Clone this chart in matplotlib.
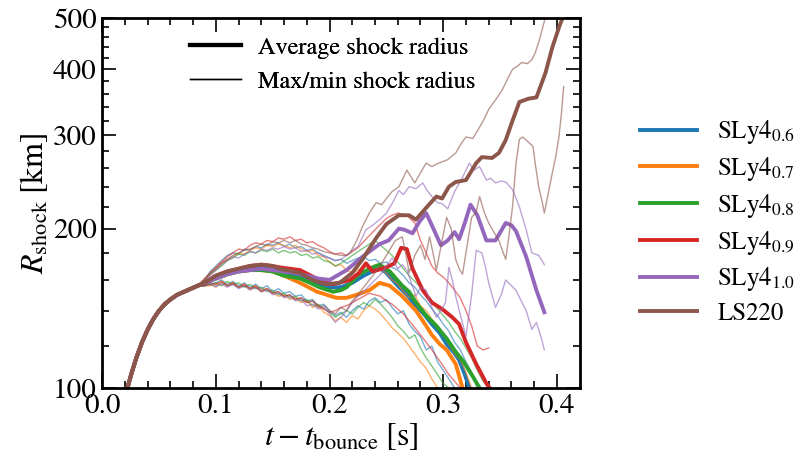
import numpy as np
import matplotlib
matplotlib.use("Agg")
import matplotlib.pyplot as plt
from matplotlib.lines import Line2D
from matplotlib.ticker import FixedLocator, NullFormatter, FixedFormatter

plt.rcParams['font.family'] = 'STIXGeneral'
plt.rcParams['mathtext.fontset'] = 'stix'

# common early rise of the shock (all models overlap here)
rise_t = [0.021, 0.026, 0.030, 0.035, 0.040, 0.045, 0.050, 0.055, 0.060, 0.066, 0.072, 0.078, 0.084]
rise_r = [98, 107, 114, 122, 129, 135, 140, 144, 147, 150, 152, 154, 156]

# sampling times of the max/min curves
grid = [0.090, 0.095, 0.100, 0.105, 0.110, 0.115, 0.120, 0.125, 0.130, 0.135,
        0.140, 0.145, 0.150, 0.155, 0.160, 0.165, 0.170, 0.175, 0.180, 0.185,
        0.190, 0.195, 0.200, 0.205, 0.210, 0.215, 0.220, 0.225, 0.230, 0.235,
        0.240, 0.245, 0.250, 0.255, 0.260, 0.265, 0.270, 0.275, 0.280, 0.285,
        0.290, 0.295, 0.300, 0.305, 0.310, 0.315, 0.320, 0.325, 0.330, 0.335, 0.340]

# SLy4_0.6
sly06_avg_t = [0.09, 0.1, 0.11, 0.12, 0.13, 0.14, 0.15, 0.16, 0.17, 0.18, 0.19, 0.2, 0.21, 0.22, 0.23,
               0.24, 0.245, 0.25, 0.26, 0.268, 0.276, 0.283, 0.29, 0.297, 0.303, 0.309, 0.314, 0.319, 0.323]
sly06_avg_r = [158, 162, 165, 167, 168, 169, 168, 166, 163, 160, 157, 155, 155, 158, 163,
               167, 168, 165, 156, 150, 143, 138, 132, 127, 121, 117, 113, 106, 100]
sly06_max = [160, 166, 170, 174, 178, 180, 179, 183, 182, 185, 184, 187, 186, 188, 185, 187, 184,
             185, 182, 183, 180, 178, 176, 174, 175, 172, 174, 176, 177, 174, 175, 172, 173, 169,
             167, 163, 158, 155, 150, 146, 141, 137, 132, 128, 122, 118, 112, 107, 100]
sly06_min = [156, 157, 158, 160, 157, 159, 156, 158, 155, 157, 154, 156, 152, 154, 151, 152, 149,
             150, 146, 147, 143, 144, 140, 137, 139, 136, 140, 143, 141, 146, 148, 145, 147, 142,
             138, 140, 132, 128, 125, 118, 120, 112, 108, 104, 100]

# SLy4_0.7
sly07_avg_t = [0.09, 0.1, 0.11, 0.12, 0.13, 0.14, 0.15, 0.16, 0.174, 0.189, 0.206, 0.215, 0.224,
               0.235, 0.244, 0.253, 0.264, 0.276, 0.285, 0.29, 0.297, 0.303, 0.311, 0.317]
sly07_avg_r = [158, 161, 164, 166, 167, 167, 166, 163, 158, 152, 148, 148, 150,
               153, 158, 156, 149, 140, 131, 126, 121, 118, 111, 100]
sly07_max = [160, 164, 168, 172, 175, 177, 180, 179, 182, 184, 183, 186, 185, 187, 186, 184, 186,
             183, 181, 182, 178, 177, 173, 170, 171, 167, 165, 167, 170, 168, 171, 167, 165, 160,
             157, 152, 148, 150, 143, 140, 135, 131, 126, 121, 116, 113, 107, 100]
sly07_min = [156, 156, 157, 159, 156, 158, 155, 157, 154, 156, 152, 154, 151, 149, 150, 147, 148,
             145, 146, 142, 143, 139, 137, 134, 136, 133, 137, 135, 140, 143, 141, 138, 134, 130,
             127, 124, 120, 116, 112, 109, 104, 100]

# SLy4_0.8
sly08_avg_t = [0.09, 0.1, 0.11, 0.12, 0.13, 0.14, 0.15, 0.16, 0.167, 0.174, 0.183, 0.191, 0.203, 0.21,
               0.215, 0.226, 0.238, 0.244, 0.253, 0.264, 0.27, 0.276, 0.285, 0.294, 0.303, 0.311,
               0.318, 0.325, 0.332]
sly08_avg_r = [158, 161, 164, 166, 167, 167, 166, 163, 162, 161, 158, 155, 152, 153,
               155, 164, 169, 171, 166, 156, 152, 145, 137, 131, 124, 117, 112, 106, 100]
sly08_max = [160, 164, 167, 170, 174, 176, 179, 178, 181, 180, 182, 181, 183, 180, 182, 180, 181,
             178, 179, 176, 177, 174, 173, 170, 172, 175, 178, 181, 184, 187, 190, 186, 182, 178,
             173, 168, 163, 159, 155, 150, 146, 141, 137, 133, 128, 124, 119, 114, 108, 103, 100]
sly08_min = [156, 157, 158, 156, 159, 157, 158, 155, 157, 154, 155, 152, 153, 150, 151, 148, 149,
             146, 147, 143, 144, 141, 139, 136, 138, 140, 138, 142, 145, 143, 147, 144, 140, 136,
             131, 128, 124, 126, 119, 114, 110, 106, 102, 100]

# SLy4_0.9
sly09_avg_t = [0.09, 0.1, 0.11, 0.12, 0.13, 0.14, 0.15, 0.156, 0.174, 0.191, 0.203, 0.218, 0.226,
               0.232, 0.238, 0.25, 0.257, 0.263, 0.268, 0.273, 0.282, 0.29, 0.299, 0.308, 0.314,
               0.32, 0.329, 0.338, 0.341]
sly09_avg_r = [158, 163, 166, 168, 170, 171, 170, 169, 167, 160, 157, 160, 165,
               172, 166, 169, 172, 184, 183, 168, 153, 145, 141, 136, 132, 122, 111, 102, 100]
sly09_max = [161, 165, 169, 173, 177, 180, 183, 182, 186, 188, 187, 190, 189, 192, 191, 193, 190,
             191, 188, 189, 186, 184, 181, 179, 180, 178, 181, 184, 189, 194, 199, 204, 209, 212,
             214, 213, 210, 205, 190, 180, 170, 165, 162, 158, 153, 148, 140, 131, 120, 118, 119]
sly09_min = [156, 158, 157, 159, 156, 158, 155, 157, 154, 156, 153, 154, 151, 152, 149, 150, 147,
             148, 145, 146, 143, 141, 139, 140, 142, 143, 145, 147, 149, 151, 150, 149, 146, 144,
             141, 138, 134, 130, 126, 122, 118, 114, 110, 106, 103, 100]

# SLy4_1.0
sly10_avg_t = [0.09, 0.1, 0.11, 0.12, 0.13, 0.14, 0.15, 0.16, 0.17, 0.18, 0.19, 0.2, 0.215, 0.229,
               0.244, 0.252, 0.261, 0.266, 0.273, 0.279, 0.285, 0.29, 0.298, 0.304, 0.31, 0.314,
               0.319, 0.324, 0.33, 0.338, 0.346, 0.355, 0.36, 0.364, 0.373, 0.382, 0.389]
sly10_avg_r = [158, 161, 164, 166, 167, 168, 167, 166, 165, 163, 161, 160, 167, 177,
               187, 190, 200, 199, 196, 206, 214, 203, 186, 190, 197, 191,
               205, 222, 212, 190, 190, 205, 203, 198, 177, 153, 139]
sly10_max_t = grid[:28] + [0.232, 0.238, 0.244, 0.25, 0.255, 0.261, 0.265, 0.27, 0.276, 0.282,
                           0.286, 0.29, 0.295, 0.299, 0.304, 0.31, 0.317, 0.323, 0.327, 0.332,
                           0.338, 0.342, 0.346, 0.351, 0.355, 0.361, 0.367, 0.373, 0.378, 0.384, 0.389]
sly10_max_r = [159, 163, 167, 171, 174, 177, 176, 179, 181, 180, 183, 182, 184, 183, 185, 183, 184,
               181, 182, 179, 180, 177, 176, 174, 175, 178, 182, 185,
               199, 203, 208, 214, 223, 236, 232, 240, 238, 244,
               236, 230, 224, 223, 218, 235, 250, 266, 258, 262,
               247, 249, 244, 246, 245, 237, 220, 199, 180, 178, 171]
sly10_min_t = grid[:23] + [0.205, 0.21, 0.215, 0.22, 0.225, 0.23, 0.235, 0.24, 0.245, 0.25,
                           0.255, 0.26, 0.264, 0.268, 0.272, 0.276, 0.28, 0.285, 0.29, 0.294,
                           0.298, 0.302, 0.305, 0.308, 0.311, 0.316, 0.32, 0.325, 0.329, 0.334,
                           0.337, 0.34, 0.346, 0.351, 0.355, 0.36, 0.364, 0.368, 0.373, 0.378,
                           0.382, 0.386, 0.389]
sly10_min_r = [156, 158, 156, 157, 155, 157, 154, 156, 153, 155, 152, 153, 150, 151, 148, 149, 146,
               147, 143, 144, 141, 142, 138,
               133, 136, 140, 145, 149, 152, 156, 160, 164, 170,
               176, 168, 171, 167, 158, 149, 155, 153, 142, 136,
               140, 145, 169, 160, 149, 135, 125, 150, 182, 180,
               170, 158, 142, 150, 160, 156, 153, 147, 140, 129,
               133, 125, 118]

# LS220
ls220_avg_t = [0.09, 0.1, 0.11, 0.12, 0.13, 0.14, 0.15, 0.156, 0.174, 0.185, 0.197, 0.209, 0.22,
               0.229, 0.241, 0.25, 0.261, 0.27, 0.276, 0.285, 0.294, 0.299, 0.305, 0.311, 0.32,
               0.329, 0.334, 0.343, 0.349, 0.355, 0.361, 0.367, 0.375, 0.382, 0.39, 0.396, 0.402, 0.408]
ls220_avg_r = [158, 163, 166, 168, 170, 171, 170, 168, 165, 160, 157, 158, 165,
               175, 192, 204, 212, 212, 208, 219, 230, 228, 240, 245, 247,
               266, 273, 272, 278, 294, 320, 347, 352, 354, 394, 440, 481, 520]
ls220_max_t = grid[:23] + [0.205, 0.21, 0.215, 0.218, 0.224, 0.229, 0.235, 0.241, 0.246, 0.25,
                           0.255, 0.261, 0.265, 0.268, 0.272, 0.275, 0.28, 0.285, 0.29, 0.296,
                           0.3, 0.304, 0.311, 0.316, 0.32, 0.326, 0.332, 0.336, 0.34, 0.346,
                           0.352, 0.357, 0.361, 0.365, 0.369, 0.374, 0.378, 0.381, 0.384, 0.387, 0.39]
ls220_max_r = [160, 165, 168, 172, 175, 178, 180, 182, 183, 185, 187, 186, 189, 188, 190, 188, 190,
               187, 186, 184, 183, 181, 180,
               179, 178, 178, 180, 190, 202, 214, 224, 222, 228,
               235, 240, 250, 258, 250, 244, 255, 266, 262, 266,
               268, 270, 278, 290, 298, 296, 311, 322, 336, 350,
               366, 385, 400, 405, 412, 410, 417, 430, 450, 475, 502]
ls220_min_t = grid[:23] + [0.205, 0.21, 0.215, 0.22, 0.225, 0.23, 0.235, 0.24, 0.245, 0.25,
                           0.254, 0.258, 0.264, 0.268, 0.27, 0.275, 0.28, 0.284, 0.288, 0.291,
                           0.294, 0.298, 0.303, 0.307, 0.311, 0.314, 0.317, 0.32, 0.325, 0.329,
                           0.332, 0.336, 0.34, 0.344, 0.349, 0.352, 0.355, 0.358, 0.361, 0.364,
                           0.367, 0.37, 0.373, 0.376, 0.379, 0.381, 0.384, 0.387, 0.389, 0.391,
                           0.393, 0.396, 0.399, 0.402, 0.404, 0.406]
ls220_min_r = [156, 157, 155, 158, 156, 157, 155, 156, 154, 155, 152, 154, 151, 152, 149, 150, 147,
               148, 145, 146, 142, 143, 140,
               138, 142, 140, 146, 150, 155, 160, 165, 171, 178,
               184, 190, 193, 175, 165, 178, 186, 175, 193, 180,
               167, 185, 210, 200, 175, 168, 164, 180, 210, 215,
               230, 215, 205, 198, 190, 182, 175, 195, 220, 265,
               295, 298, 294, 290, 286, 265, 240, 225, 214, 225,
               237, 255, 273, 300, 330, 371]

labels = [r'SLy4$_{0.6}$', r'SLy4$_{0.7}$', r'SLy4$_{0.8}$', r'SLy4$_{0.9}$', r'SLy4$_{1.0}$', 'LS220']
colors = ['tab:blue', 'tab:orange', 'tab:green', 'tab:red', 'tab:purple', 'tab:brown']

models = [
    (sly06_avg_t, sly06_avg_r, grid[:len(sly06_max)], sly06_max, grid[:len(sly06_min)], sly06_min),
    (sly07_avg_t, sly07_avg_r, grid[:len(sly07_max)], sly07_max, grid[:len(sly07_min)], sly07_min),
    (sly08_avg_t, sly08_avg_r, grid[:len(sly08_max)], sly08_max, grid[:len(sly08_min)], sly08_min),
    (sly09_avg_t, sly09_avg_r, grid[:len(sly09_max)], sly09_max, grid[:len(sly09_min)], sly09_min),
    (sly10_avg_t, sly10_avg_r, sly10_max_t, sly10_max_r, sly10_min_t, sly10_min_r),
    (ls220_avg_t, ls220_avg_r, ls220_max_t, ls220_max_r, ls220_min_t, ls220_min_r),
]

fig = plt.figure(figsize=(8.05, 4.68), dpi=100)
ax = fig.add_axes([0.127, 0.171, 0.593, 0.7905])

model_handles = []
for (at, ar, mt, mr, nt, nr), c, lab in zip(models, colors, labels):
    ax.plot(rise_t + mt, rise_r + mr, color=c, lw=1.0, alpha=0.6)
    ax.plot(rise_t + nt, rise_r + nr, color=c, lw=1.0, alpha=0.6)
    h, = ax.plot(rise_t + at, rise_r + ar, color=c, lw=2.8, label=lab)
    model_handles.append(h)

ax.set_yscale('log')
ax.set_xlim(0, 0.42)
ax.set_ylim(100, 500)

major_y = [100, 200, 300, 400, 500]
minor_y = [v for v in range(120, 500, 20) if v not in major_y]
ax.yaxis.set_major_locator(FixedLocator(major_y))
ax.yaxis.set_major_formatter(FixedFormatter([str(v) for v in major_y]))
ax.yaxis.set_minor_locator(FixedLocator(minor_y))
ax.yaxis.set_minor_formatter(NullFormatter())
ax.set_xticks([0.0, 0.1, 0.2, 0.3, 0.4])
ax.set_xticklabels(['0.0', '0.1', '0.2', '0.3', '0.4'])
ax.set_xticks(np.arange(0.0, 0.42, 0.02), minor=True)

ax.tick_params(which='both', direction='in', top=True, right=True, labelsize=21, width=1.2)
ax.tick_params(which='major', length=10, pad=4)
ax.tick_params(which='minor', length=5)
for sp in ax.spines.values():
    sp.set_linewidth(2)

ax.set_xlabel(r'$t - t_{\rm bounce}\;[\rm s]$', fontsize=23, labelpad=2)
ax.set_ylabel(r'$R_{\rm shock}\;[\rm km]$', fontsize=23, labelpad=2)

style_handles = [Line2D([], [], color='black', lw=3), Line2D([], [], color='black', lw=1)]
leg1 = ax.legend(style_handles, ['Average shock radius', 'Max/min shock radius'],
                 loc='upper left', bbox_to_anchor=(0.184, 0.95), frameon=False,
                 fontsize=17.5, borderpad=0, borderaxespad=0, handlelength=2.1,
                 handletextpad=0.7, labelspacing=0.5)
ax.add_artist(leg1)

fig.legend(model_handles, labels, loc='center left', bbox_to_anchor=(0.795, 0.525),
           frameon=False, fontsize=18, borderpad=0, borderaxespad=0, handlelength=2.3,
           handletextpad=0.8, labelspacing=0.35)

fig.savefig('out.png', dpi=100)
